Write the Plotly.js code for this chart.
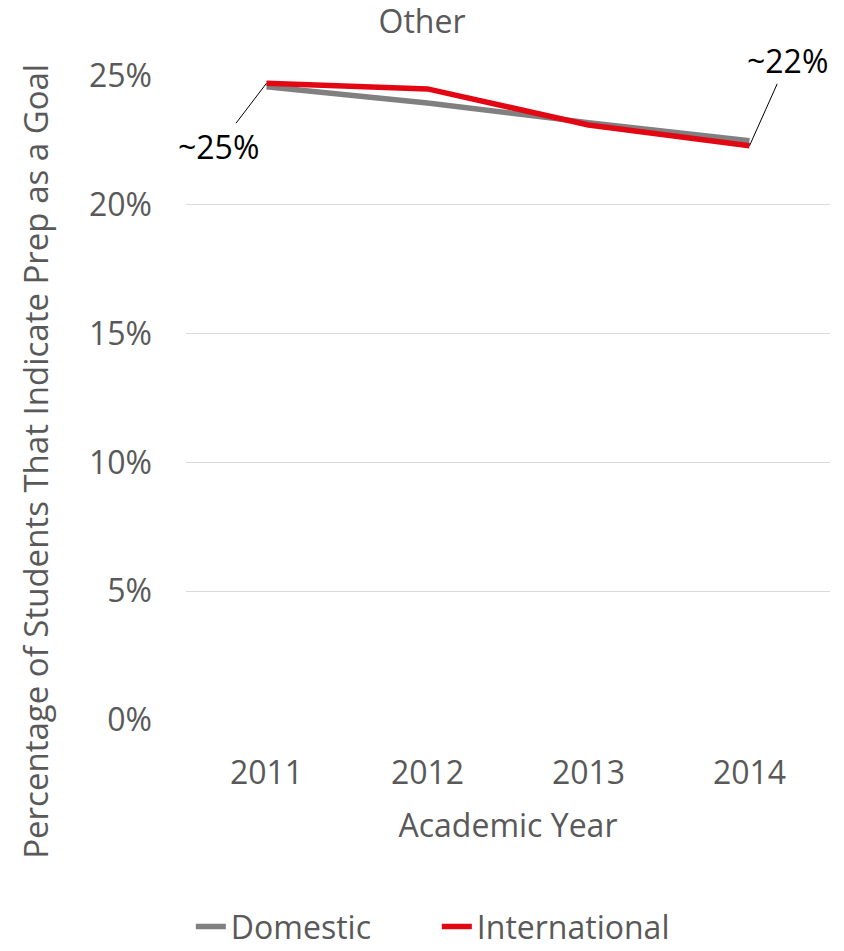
<!DOCTYPE html>
<html>
<head>
<meta charset="utf-8">
<script src="https://cdn.plot.ly/plotly-3.0.1.min.js"></script>
<style>body{margin:0;background:#fff}#chart{width:844px;height:951px}</style>
</head>
<body>
<div id="chart"></div>
<script>
const years = [2011, 2012, 2013, 2014];
const yearLabels = ["2011", "2012", "2013", "2014"];
const domestic = [24.58, 23.95, 23.19, 22.49];
const international = [24.72, 24.50, 23.10, 22.29];
const yTickVals = [0, 5, 10, 15, 20, 25];
const yTickText = ["0%", "5%", "10%", "15%", "20%", "25%"];
const labelStart = "~25%";
const labelEnd = "~22%";

const FONT = "Open Sans, Noto Sans, sans-serif";
const GREY_TXT = "#595959";
const FS = 32;

const traces = [
  {x: years, y: domestic, name: "Domestic", type: "scatter", mode: "lines",
   line: {color: "#808080", width: 5.5}},
  {x: years, y: international, name: "International", type: "scatter", mode: "lines",
   line: {color: "#e30613", width: 5.5}}
];

const layout = {
  width: 844, height: 951,
  margin: {l: 186, r: 14, t: 76, b: 231, autoexpand: false},
  paper_bgcolor: "#fff", plot_bgcolor: "#fff",
  font: {family: FONT, color: GREY_TXT, size: FS},
  title: {text: "Other", x: 0.5, xanchor: "center", y: 0.977, yanchor: "middle",
          font: {family: FONT, size: FS, color: GREY_TXT}},
  xaxis: {type: "linear", range: [2010.5, 2014.5], tickvals: years, ticktext: yearLabels,
          showgrid: false, zeroline: false, showline: false,
          ticks: "", ticklabelstandoff: 31,
          tickfont: {family: FONT, size: FS, color: GREY_TXT},
          title: {text: "Academic Year", standoff: 22, font: {family: FONT, size: FS, color: GREY_TXT}}},
  yaxis: {range: [0, 25], tickvals: yTickVals, ticktext: yTickText,
          showgrid: true, gridcolor: "#d9d9d9", gridwidth: 1.3, zeroline: false, showline: false,
          ticks: "", ticklabelstandoff: 33,
          tickfont: {family: FONT, size: FS, color: GREY_TXT}},
  showlegend: true,
  legend: {orientation: "h", x: 0.0075, xanchor: "left", xref: "paper", y: -0.321, yanchor: "middle",
           entrywidth: 201, entrywidthmode: "pixels",
           font: {family: FONT, size: FS, color: GREY_TXT}, tracegroupgap: 0},
  annotations: [
    {text: "Percentage of Students That Indicate Prep as a Goal", textangle: -90,
     xref: "paper", yref: "paper", x: -0.235, y: 0.402, xanchor: "center", yanchor: "middle",
     showarrow: false, font: {family: FONT, size: 33, color: GREY_TXT}},
    {x: years[0], y: international[0], text: labelStart, showarrow: true, arrowhead: 0,
     arrowwidth: 1, arrowcolor: "#000", ax: -48, ay: 63, font: {family: FONT, size: FS, color: "#000"}},
    {x: years[3], y: international[3], text: labelEnd, showarrow: true, arrowhead: 0,
     arrowwidth: 1, arrowcolor: "#000", ax: 38, ay: -85, font: {family: FONT, size: FS, color: "#000"}}
  ]
};

Plotly.newPlot("chart", traces, layout, {displayModeBar: false});
</script>
</body>
</html>
